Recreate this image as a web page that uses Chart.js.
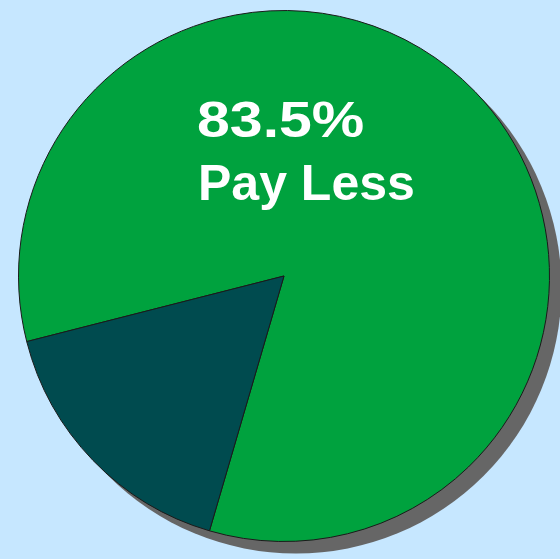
<!DOCTYPE html>
<html>
<head>
<meta charset="utf-8">
<script src="https://cdn.jsdelivr.net/npm/chart.js@4"></script>
<style>
  html, body { margin: 0; padding: 0; background: #c6e7ff; }
  #wrap { width: 560px; height: 559px; position: relative; }
</style>
</head>
<body>
<div id="wrap"><canvas id="pasta"></canvas></div>
<script>
// veriler
const kategoriler = ['Pay Less', 'Pay More'];
const degerler = [83.5, 16.5];
const renkler = ['#00a23e', '#004b4f'];

// gölge: dilimlerin arkasına gri daire
const golgePlugin = {
    id: 'golge',
    beforeDatasetsDraw(chart) {
        const arc = chart.getDatasetMeta(0).data[0];
        if (!arc) return;
        const ctx = chart.ctx;
        ctx.save();
        ctx.fillStyle = '#666666';
        ctx.beginPath();
        ctx.arc(arc.x + 12, arc.y + 12, arc.outerRadius, 0, Math.PI * 2);
        ctx.fill();
        ctx.restore();
    }
};

// yazı: büyük dilimin üstünde
const yaziPlugin = {
    id: 'yazi',
    afterDatasetsDraw(chart) {
        const ctx = chart.ctx;
        ctx.save();
        ctx.fillStyle = '#ffffff';
        ctx.textAlign = 'left';
        ctx.textBaseline = 'alphabetic';
        ctx.font = 'bold 50px "Liberation Sans", Arial, sans-serif';
        // rakamlar resimde daha geniş, yatay olarak biraz uzat
        ctx.save();
        ctx.translate(197, 137);
        ctx.scale(1.18, 1);
        ctx.fillText(degerler[0].toFixed(1) + '%', 0, 0);
        ctx.restore();
        ctx.fillText(kategoriler[0], 198, 200);
        ctx.restore();
    }
};

new Chart(document.getElementById('pasta'), {
    type: 'pie',
    data: {
        labels: kategoriler,
        datasets: [{
            data: degerler,
            backgroundColor: renkler,
            borderColor: '#1a1a1a',
            borderWidth: 1
        }]
    },
    options: {
        responsive: true,
        maintainAspectRatio: false,
        animation: false,
        rotation: 255.7,
        layout: {
            padding: { left: 18, right: 10, top: 10, bottom: 17 }
        },
        plugins: {
            legend: { display: false },
            tooltip: { enabled: false }
        }
    },
    plugins: [golgePlugin, yaziPlugin]
});
</script>
</body>
</html>
